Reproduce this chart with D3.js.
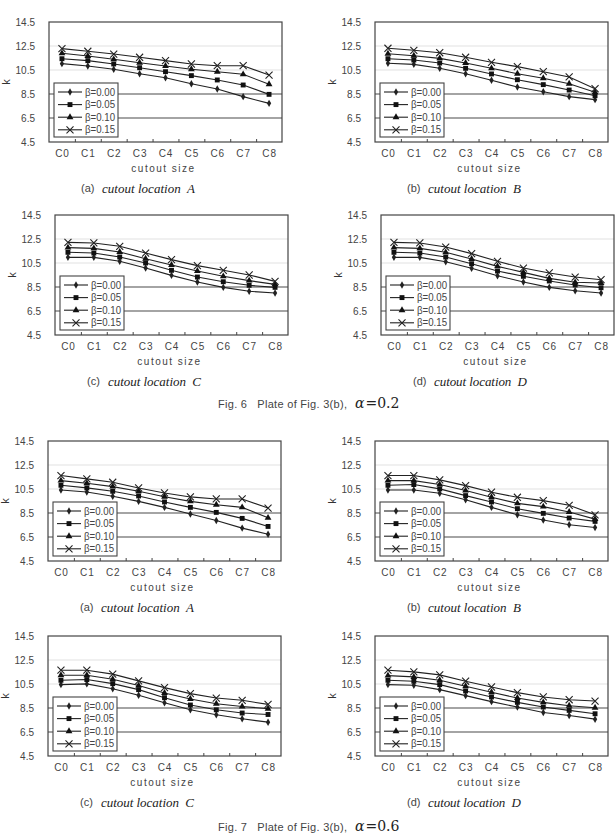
<!DOCTYPE html>
<html>
<head>
<meta charset="utf-8">
<script src="https://cdn.jsdelivr.net/npm/d3@7"></script>
<style>
  body { margin: 0; background: #fff; }
  svg { display: block; }
  text { font-family: "Liberation Sans", Arial, sans-serif; fill: #333; }
</style>
</head>
<body>
<div id="chart"></div>
<script>
// categories and tick values
const categories = ['C0', 'C1', 'C2', 'C3', 'C4', 'C5', 'C6', 'C7', 'C8'];
const betaLabels = ['β=0.00', 'β=0.05', 'β=0.10', 'β=0.15'];
const yTicks = [4.5, 6.5, 8.5, 10.5, 12.5, 14.5];

// k values, one row per beta (0.00, 0.05, 0.10, 0.15)
const fig6A = [
  [11.03, 10.83, 10.56, 10.19, 9.86, 9.36, 8.92, 8.28, 7.72],
  [11.44, 11.28, 11.00, 10.69, 10.36, 10.03, 9.67, 9.25, 8.47],
  [11.89, 11.67, 11.39, 11.11, 10.83, 10.56, 10.36, 10.14, 9.31],
  [12.28, 12.06, 11.83, 11.56, 11.28, 11.00, 10.86, 10.86, 10.08]
];
const fig6B = [
  [11.06, 10.97, 10.64, 10.19, 9.64, 9.08, 8.69, 8.28, 8.03],
  [11.44, 11.33, 11.08, 10.64, 10.17, 9.69, 9.28, 8.83, 8.36],
  [11.86, 11.69, 11.47, 11.08, 10.64, 10.19, 9.81, 9.36, 8.64],
  [12.31, 12.14, 11.94, 11.56, 11.14, 10.78, 10.36, 9.92, 8.94]
];
const fig6C = [
  [10.97, 10.97, 10.64, 10.08, 9.47, 8.92, 8.47, 8.14, 8.00],
  [11.39, 11.33, 11.00, 10.50, 9.89, 9.33, 8.94, 8.64, 8.47],
  [11.78, 11.72, 11.42, 10.86, 10.33, 9.83, 9.39, 9.03, 8.72],
  [12.22, 12.17, 11.89, 11.33, 10.78, 10.28, 9.89, 9.50, 8.97]
];
const fig6D = [
  [10.97, 10.97, 10.61, 10.06, 9.44, 8.92, 8.47, 8.19, 8.00],
  [11.39, 11.33, 11.00, 10.44, 9.83, 9.39, 9.00, 8.67, 8.44],
  [11.78, 11.72, 11.39, 10.83, 10.22, 9.72, 9.22, 8.89, 8.83],
  [12.22, 12.17, 11.83, 11.28, 10.64, 10.08, 9.67, 9.33, 9.11]
];
const fig7A = [
  [10.42, 10.25, 9.89, 9.47, 8.97, 8.41, 7.88, 7.24, 6.73],
  [10.81, 10.59, 10.31, 9.92, 9.42, 8.97, 8.55, 8.05, 7.38],
  [11.20, 10.98, 10.70, 10.31, 9.86, 9.47, 9.19, 8.97, 8.10],
  [11.62, 11.34, 11.06, 10.59, 10.17, 9.84, 9.67, 9.67, 8.91]
];
const fig7B = [
  [10.42, 10.42, 10.14, 9.61, 8.97, 8.35, 7.91, 7.52, 7.29],
  [10.81, 10.87, 10.51, 9.95, 9.42, 8.86, 8.47, 8.08, 7.80],
  [11.20, 11.20, 10.87, 10.37, 9.81, 9.30, 9.03, 8.58, 7.99],
  [11.62, 11.62, 11.26, 10.78, 10.23, 9.81, 9.53, 9.14, 8.35]
];
const fig7C = [
  [10.45, 10.51, 10.11, 9.56, 8.94, 8.35, 7.94, 7.60, 7.32],
  [10.81, 10.87, 10.53, 10.03, 9.36, 8.75, 8.35, 8.08, 7.96],
  [11.23, 11.23, 10.90, 10.37, 9.75, 9.25, 8.86, 8.63, 8.44],
  [11.65, 11.65, 11.32, 10.76, 10.20, 9.70, 9.33, 9.14, 8.80]
];
const fig7D = [
  [10.45, 10.39, 10.03, 9.53, 9.03, 8.58, 8.13, 7.88, 7.57],
  [10.81, 10.73, 10.45, 9.92, 9.42, 8.97, 8.58, 8.30, 8.02],
  [11.20, 11.09, 10.81, 10.31, 9.81, 9.33, 8.97, 8.69, 8.52],
  [11.65, 11.51, 11.26, 10.73, 10.25, 9.78, 9.42, 9.19, 9.08]
];

// panel placement on the page
const panels = [
  { tag: '(a)', loc: 'A', data: fig6A, left: 49, top: 22 },
  { tag: '(b)', loc: 'B', data: fig6B, left: 375, top: 22 },
  { tag: '(c)', loc: 'C', data: fig6C, left: 55, top: 215 },
  { tag: '(d)', loc: 'D', data: fig6D, left: 381, top: 215 },
  { tag: '(a)', loc: 'A', data: fig7A, left: 48, top: 441 },
  { tag: '(b)', loc: 'B', data: fig7B, left: 375, top: 441 },
  { tag: '(c)', loc: 'C', data: fig7C, left: 48, top: 636 },
  { tag: '(d)', loc: 'D', data: fig7D, left: 375, top: 636 }
];

const plotW = 233, plotH = 120;
const markers = [
  { type: d3.symbolDiamond, size: 16, fill: '#222' },
  { type: d3.symbolSquare, size: 24, fill: '#111' },
  { type: d3.symbolTriangle, size: 20, fill: '#111' },
  { type: d3.symbolTimes, size: 34, fill: 'none' }
];

const svg = d3.select('#chart').append('svg')
  .attr('width', 615)
  .attr('height', 833);

const x = d3.scalePoint().domain(categories).range([0, plotW]).padding(0.5);
const xEdge = d3.scaleLinear().domain([0, categories.length]).range([0, plotW]);
const y = d3.scaleLinear().domain([4.5, 14.5]).range([plotH, 0]);

const line = d3.line()
  .x((d, i) => x(categories[i]))
  .y(d => y(d));

function drawPanel(p) {
  const g = svg.append('g').attr('transform', `translate(${p.left},${p.top})`);

  // gridlines: upper ones pale, lower ones dark as in the scan
  g.selectAll('.grid')
    .data(yTicks.slice(1, -1))
    .enter().append('line')
    .attr('x1', 0).attr('x2', plotW)
    .attr('y1', d => y(d)).attr('y2', d => y(d))
    .attr('stroke', d => d > 9 ? '#e2e2e2' : '#4a4a4a')
    .attr('stroke-width', 1.2);

  g.append('rect')
    .attr('width', plotW).attr('height', plotH)
    .attr('fill', 'none').attr('stroke', '#444').attr('stroke-width', 1.2);

  // y axis
  const ya = g.append('g')
    .call(d3.axisLeft(y).tickValues(yTicks).tickSize(0).tickPadding(14).tickFormat(d3.format('.1f')));
  ya.select('.domain').remove();
  ya.selectAll('text').style('font-size', '10px').style('fill', '#444')
    .style('font-family', '"Liberation Sans", Arial, sans-serif');

  // x axis labels
  const xa = g.append('g').attr('transform', `translate(0,${plotH})`)
    .call(d3.axisBottom(x).tickSize(0).tickPadding(8));
  xa.select('.domain').remove();
  xa.selectAll('text').style('font-size', '10px').style('fill', '#444')
    .style('letter-spacing', '0.9px')
    .style('font-family', '"Liberation Sans", Arial, sans-serif');

  // small inward ticks between categories
  const xt = g.append('g').attr('transform', `translate(0,${plotH})`)
    .call(d3.axisBottom(xEdge).tickValues(d3.range(1, categories.length)).tickSize(-3).tickFormat(''));
  xt.select('.domain').remove();
  xt.selectAll('line').attr('stroke', '#444');

  g.append('text')
    .attr('transform', `translate(-43,${plotH / 2}) rotate(-90)`)
    .attr('text-anchor', 'middle')
    .attr('dy', '0.35em')
    .style('font-size', '11px')
    .text('k');

  g.append('text')
    .attr('x', plotW / 2 - 2).attr('y', plotH + 26)
    .attr('text-anchor', 'middle').attr('dy', '0.35em')
    .style('font-size', '10px').style('letter-spacing', '1.5px').style('fill', '#444')
    .text('cutout size');

  // series
  p.data.forEach((vals, s) => {
    g.append('path')
      .datum(vals)
      .attr('d', line)
      .attr('fill', 'none')
      .attr('stroke', '#222')
      .attr('stroke-width', 1.1);
    const m = markers[s];
    g.selectAll(`.m${s}`)
      .data(vals)
      .enter().append('path')
      .attr('transform', (d, i) => `translate(${x(categories[i])},${y(d)})`)
      .attr('d', d3.symbol().type(m.type).size(m.size))
      .attr('fill', m.fill)
      .attr('stroke', s === 3 ? '#222' : 'none')
      .attr('stroke-width', 1.1);
  });

  // legend
  const lg = g.append('g').attr('transform', 'translate(5,61)');
  lg.append('rect')
    .attr('width', 64).attr('height', 54)
    .attr('fill', '#fff').attr('stroke', '#444').attr('stroke-width', 1.1);
  betaLabels.forEach((lab, s) => {
    const ly = 9 + s * 12.6;
    lg.append('line')
      .attr('x1', 4).attr('x2', 28).attr('y1', ly).attr('y2', ly)
      .attr('stroke', '#222').attr('stroke-width', 1.1);
    const m = markers[s];
    lg.append('path')
      .attr('transform', `translate(16,${ly})`)
      .attr('d', d3.symbol().type(m.type).size(m.size))
      .attr('fill', m.fill)
      .attr('stroke', s === 3 ? '#222' : 'none')
      .attr('stroke-width', 1.1);
    lg.append('text')
      .attr('x', 31).attr('y', ly).attr('dy', '0.35em')
      .attr('textLength', 30).attr('lengthAdjust', 'spacingAndGlyphs')
      .style('font-size', '10.5px').style('fill', '#444')
      .text(lab);
  });

  // caption
  g.append('text')
    .attr('x', 32).attr('y', 166).attr('dy', '0.35em')
    .style('font-size', '11px').style('fill', '#444')
    .text(p.tag);
  g.append('text')
    .attr('x', 53).attr('y', 166).attr('dy', '0.35em')
    .attr('textLength', 93).attr('lengthAdjust', 'spacing')
    .style('white-space', 'pre')
    .style('font-family', '"Liberation Serif", "Times New Roman", serif')
    .style('font-style', 'italic').style('font-size', '13px').style('fill', '#222')
    .text(`cutout location  ${p.loc}`);
}

panels.forEach(drawPanel);

// figure titles
const titles = [
  { text: 'Fig. 6   Plate of Fig. 3(b),', alpha: '0.2', y: 408 },
  { text: 'Fig. 7   Plate of Fig. 3(b),', alpha: '0.6', y: 831 }
];
titles.forEach(t => {
  svg.append('text')
    .attr('x', 218).attr('y', t.y)
    .attr('textLength', 129).attr('lengthAdjust', 'spacing')
    .style('white-space', 'pre')
    .style('font-size', '11px').style('fill', '#444')
    .text(t.text);
  const tt = svg.append('text')
    .attr('x', 355).attr('y', t.y)
    .style('font-family', '"DejaVu Serif", "Liberation Serif", serif')
    .style('font-size', '14px').style('fill', '#222');
  tt.append('tspan')
    .style('font-style', 'italic')
    .text('α');
  tt.append('tspan')
    .attr('dx', 1)
    .text('=' + t.alpha);
});
</script>
</body>
</html>
